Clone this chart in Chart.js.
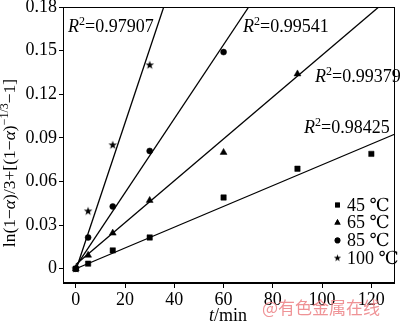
<!DOCTYPE html>
<html><head><meta charset="utf-8">
<script src="https://cdn.jsdelivr.net/npm/chart.js@4.4.1/dist/chart.umd.min.js"></script>
<style>html,body{margin:0;padding:0;background:#fff}canvas{display:block}</style>
</head><body>
<canvas id="c" width="400" height="325"></canvas>
<script>
// ---- data ----
const seriesLabels = ['45 ℃', '65 ℃', '85 ℃', '100 ℃'];
const times45 = [0, 5, 15, 30, 60, 90, 120];
const vals45  = [0, 0.0035, 0.0126, 0.0215, 0.049, 0.0688, 0.079];
const times65 = [0, 5, 15, 30, 60, 90];
const vals65  = [0, 0.0093, 0.0245, 0.047, 0.080, 0.134];
const times85 = [0, 5, 15, 30, 60];
const vals85  = [0, 0.0215, 0.0428, 0.081, 0.149];
const times100 = [0, 5, 15, 30];
const vals100  = [0, 0.0395, 0.085, 0.140];
// fitted straight lines: end points
const fitX45 = [0, 129.4],  fitY45 = [0, 0.0925];
const fitX65 = [0, 123],    fitY65 = [0.003, 0.18];
const fitX85 = [0, 70.2],   fitY85 = [0.0015, 0.18];
const fitX100 = [0, 35.7],  fitY100 = [-0.001, 0.18];
const r2Values = ['0.98425', '0.99379', '0.99541', '0.97907'];
const xTicks = [0, 20, 40, 60, 80, 100, 120];
const yTicks = [0, 0.03, 0.06, 0.09, 0.12, 0.15, 0.18];

const SERIF = '"Liberation Serif", "Times New Roman", serif';
const pts = (xs, ys) => xs.map((x, i) => ({x: x, y: ys[i]}));

// filled five-pointed star marker
function makeStar(size, outer, inner) {
  const c = document.createElement('canvas');
  c.width = size; c.height = size;
  const g = c.getContext('2d');
  g.fillStyle = '#000';
  g.beginPath();
  for (let i = 0; i < 10; i++) {
    const r = i % 2 ? inner : outer;
    const a = -Math.PI / 2 + i * Math.PI / 5;
    const px = size / 2 + r * Math.cos(a), py = size / 2 + r * Math.sin(a);
    i ? g.lineTo(px, py) : g.moveTo(px, py);
  }
  g.closePath(); g.fill();
  return c;
}
const starImg = makeStar(10, 4.5, 1.8);
const starLegend = makeStar(9, 3.8, 1.5);

const styles = [
  {pointStyle: 'rect', radius: 3.8, legendRadius: 3.4},
  {pointStyle: 'triangle', radius: 4, legendRadius: 3.6},
  {pointStyle: 'circle', radius: 3, legendRadius: 2.8},
  {pointStyle: starImg, radius: 5, legendStyle: starLegend, legendRadius: 4}
];
const scatterData = [pts(times45, vals45), pts(times65, vals65), pts(times85, vals85), pts(times100, vals100)];
const fitData = [pts(fitX45, fitY45), pts(fitX65, fitY65), pts(fitX85, fitY85), pts(fitX100, fitY100)];

const datasets = [];
fitData.forEach((d, i) => datasets.push({
  type: 'line', data: d, borderColor: '#000', borderWidth: 1.3,
  pointRadius: 0, fill: false, tension: 0, label: 'fit' + i, order: 2
}));
scatterData.forEach((d, i) => datasets.push({
  type: 'scatter', data: d, label: seriesLabels[i],
  pointStyle: styles[i].pointStyle, pointRadius: styles[i].radius,
  backgroundColor: '#000', borderColor: '#000', borderWidth: 0.5, order: 1
}));

function drawRich(ctx, parts, x, y, size, align) {
  const fonts = parts.map(p => (p.i ? 'italic ' : '') + (p.s ? Math.round(size * 0.66) : size) + 'px ' + SERIF);
  let total = 0;
  const widths = parts.map((p, k) => { ctx.font = fonts[k]; const w = ctx.measureText(p.t).width; total += w; return w; });
  let cx = align === 'center' ? x - total / 2 : x;
  parts.forEach((p, k) => {
    ctx.font = fonts[k];
    ctx.fillText(p.t, cx, p.s ? y - size * 0.4 : y);
    cx += widths[k];
  });
}

const decor = {
  id: 'decor',
  afterDraw(chart) {
    const ctx = chart.ctx, a = chart.chartArea;
    ctx.save();
    ctx.strokeStyle = '#000'; ctx.lineWidth = 1;
    ctx.strokeRect(Math.round(a.left) + 0.5, Math.round(a.top) + 0.5, Math.round(a.right - a.left) - 1, Math.round(a.bottom - a.top) - 1);
    ctx.fillStyle = '#000';
    ctx.textBaseline = 'alphabetic'; ctx.textAlign = 'left';
    // R^2 annotations
    const r2Pos = [[304, 133], [315, 82], [243, 32], [68, 32]];
    r2Values.forEach((v, i) => drawRich(ctx, [{t: 'R', i: 1}, {t: '2', s: 1}, {t: '=' + v}], r2Pos[i][0], r2Pos[i][1], 18, 'left'));
    // legend
    ctx.textBaseline = 'middle';
    seriesLabels.forEach((lab, i) => {
      const y = 205 + i * 17.7;
      Chart.helpers.drawPoint(ctx, {pointStyle: styles[i].legendStyle || styles[i].pointStyle, radius: styles[i].legendRadius, rotation: 0, borderWidth: 0}, 337.5, y);
      if (!styles[i].legendStyle) { ctx.fill(); }
      ctx.font = '18px ' + SERIF + ', "DejaVu Serif", "Noto Sans CJK SC"';
      ctx.fillText(lab, 347, y + 1);
    });
    // x title
    ctx.textBaseline = 'alphabetic';
    drawRich(ctx, [{t: 't', i: 1}, {t: '/min'}], 228, 321, 18, 'center');
    // y title
    ctx.save();
    ctx.translate(15, 163);
    ctx.rotate(-Math.PI / 2);
    drawRich(ctx, [{t: 'ln(1−'}, {t: 'α', i: 1}, {t: ')/3+[(1−'}, {t: 'α', i: 1}, {t: ')'}, {t: '−1/3', s: 1}, {t: '−1]'}], 0, 0, 17.5, 'center');
    ctx.restore();
    // watermark
    ctx.fillStyle = 'rgba(236,128,132,0.85)';
    ctx.font = '17px "Noto Sans CJK SC"';
    ctx.textBaseline = 'middle';
    ctx.fillText('@有色金属在线', 262, 308);
    ctx.restore();
  }
};

new Chart(document.getElementById('c'), {
  type: 'scatter',
  data: {datasets: datasets},
  options: {
    responsive: false, animation: false, devicePixelRatio: 1,
    layout: {padding: {top: 7, right: 3, left: 0, bottom: 0}},
    plugins: {legend: {display: false}, tooltip: {enabled: false}},
    scales: {
      x: {
        type: 'linear', min: -5.2, max: 129.4,
        afterBuildTicks: s => { s.ticks = xTicks.map(v => ({value: v})); },
        afterFit: s => { s.height = 42; s.paddingLeft = 0; s.paddingRight = 0; },
        grid: {drawOnChartArea: false, drawTicks: true, tickLength: 5, color: '#000', lineWidth: 1},
        border: {display: true, color: '#000', width: 1},
        ticks: {color: '#000', padding: 1, maxRotation: 0, font: {family: SERIF, size: 18}, callback: v => String(v)}
      },
      y: {
        type: 'linear', min: -0.0098, max: 0.18,
        afterBuildTicks: s => { s.ticks = yTicks.map(v => ({value: v})); },
        afterFit: s => { s.width = 63; s.paddingTop = 0; s.paddingBottom = 0; },
        grid: {drawOnChartArea: false, drawTicks: true, tickLength: 4, color: '#000', lineWidth: 1},
        border: {display: true, color: '#000', width: 1},
        ticks: {color: '#000', padding: 2, font: {family: SERIF, size: 18}, callback: v => v === 0 ? '0' : v.toFixed(2)}
      }
    }
  },
  plugins: [decor]
});
</script>
</body></html>
